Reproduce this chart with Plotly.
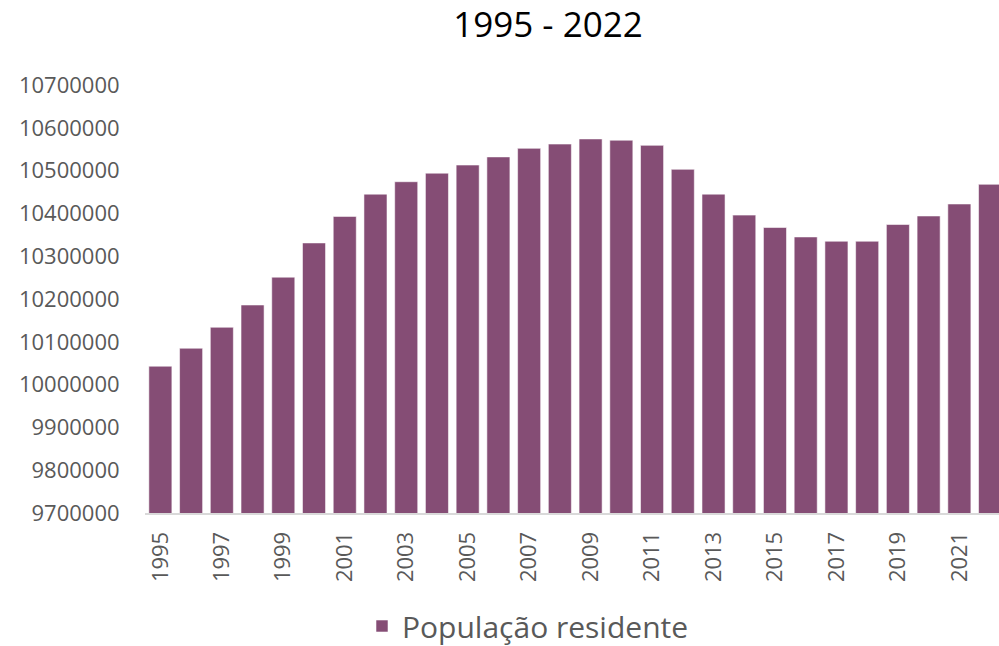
import plotly.graph_objects as go

years = list(range(1995, 2023))
populacao = [10043000, 10085000, 10134000, 10186000, 10251000, 10331000, 10393000,
             10445000, 10474000, 10494000, 10513000, 10532000, 10552000, 10562000,
             10574000, 10571000, 10559000, 10503000, 10445000, 10396000, 10367000,
             10345000, 10335000, 10335000, 10374000, 10394000, 10422000, 10468000]
tick_years = years[::2]
title_text = "1995 - 2022"
series_name = "População residente"

fig = go.Figure()
fig.add_trace(go.Bar(
    x=years, y=populacao, name=series_name,
    marker=dict(color="#854D75", line=dict(color="rgba(255,255,255,0.55)", width=1)),
    showlegend=True,
))

fig.update_layout(
    width=999, height=646,
    margin=dict(l=145, r=0, t=85, b=133),
    plot_bgcolor="white", paper_bgcolor="white",
    bargap=0.25,
    font=dict(family="Open Sans", color="#595959"),
    title=dict(text=title_text, x=548/999, xref="container", xanchor="center",
               y=1 - 25/646, yref="container", yanchor="middle",
               font=dict(family="Open Sans", size=35, color="#000000")),
    showlegend=True,
    legend=dict(orientation="h", x=528/999, xref="container", xanchor="center",
                y=1 - 626/646, yref="container", yanchor="middle",
                font=dict(size=30, color="#595959"), itemwidth=30),
    xaxis=dict(range=[1994.5, 2022.29], tickvals=tick_years,
               ticktext=[str(y) for y in tick_years], tickangle=-90,
               tickfont=dict(size=22, color="#595959"),
               showgrid=False, showline=True, linecolor="#d9d9d9", linewidth=2,
               ticks="outside", ticklen=8, tickcolor="rgba(0,0,0,0)", zeroline=False),
    yaxis=dict(range=[9700000, 10700000], dtick=100000, tickformat="d",
               tickfont=dict(size=22, color="#595959"),
               showgrid=False, showline=False, zeroline=False,
               ticks="outside", ticklen=20, tickcolor="rgba(0,0,0,0)"),
)
fig.write_html("out.html", config={"displayModeBar": False},
               post_script="document.body.style.margin='0';document.body.style.overflow='hidden';")
